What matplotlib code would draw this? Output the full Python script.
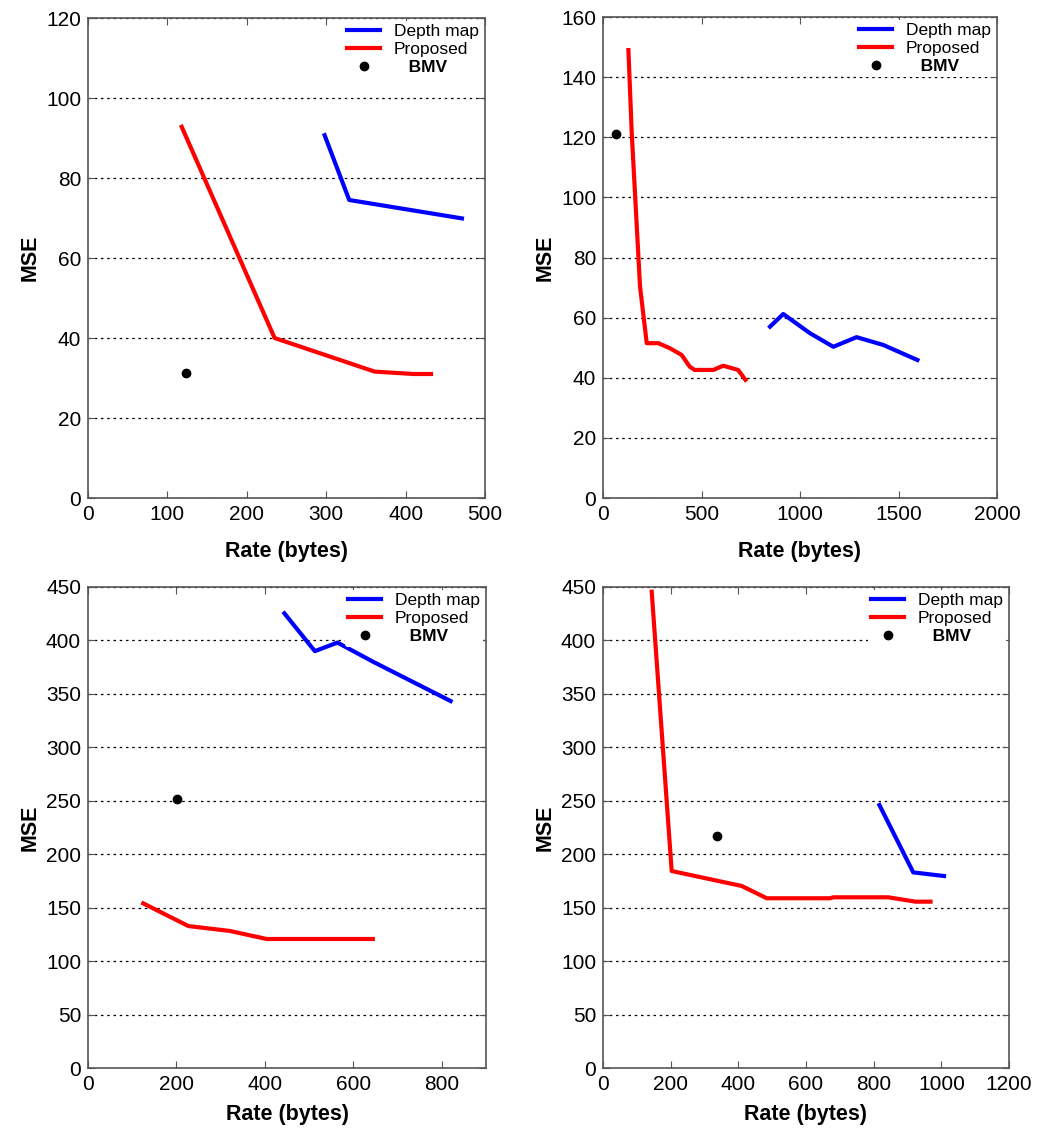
import matplotlib
matplotlib.use("Agg")
import matplotlib.pyplot as plt

plt.rcParams['font.family'] = ['Liberation Sans', 'DejaVu Sans']

# Panel 1 (top-left)
p1_depth_x = [298, 329, 471]
p1_depth_y = [90.7, 74.5, 69.9]
p1_prop_x = [118, 235, 361, 410, 432]
p1_prop_y = [92.8, 40.0, 31.6, 31.0, 31.0]
p1_bmv_x = [124]
p1_bmv_y = [31.2]

# Panel 2 (top-right)
p2_depth_x = [848, 915, 1051, 1169, 1287, 1423, 1596]
p2_depth_y = [57.0, 61.2, 54.8, 50.3, 53.5, 50.9, 45.9]
p2_prop_x = [129, 146, 188, 222, 281, 340, 399, 440, 465, 560, 610, 686, 723]
p2_prop_y = [149, 121.3, 70.3, 51.5, 51.5, 49.8, 47.6, 43.7, 42.6, 42.6, 44.0, 42.6, 39.3]
p2_bmv_x = [66]
p2_bmv_y = [121]

# Panel 3 (bottom-left)
p3_depth_x = [444, 513, 564, 645, 820]
p3_depth_y = [425.4, 390, 398, 380, 343.3]
p3_prop_x = [125, 227, 321, 404, 644]
p3_prop_y = [154, 132.8, 128.2, 120.7, 120.7]
p3_bmv_x = [202]
p3_bmv_y = [251.4]

# Panel 4 (bottom-right)
p4_depth_x = [817, 917, 1008]
p4_depth_y = [246, 183, 179.6]
p4_prop_x = [144, 203, 410, 484, 671, 681, 843, 924, 968]
p4_prop_y = [445.6, 184.3, 170.3, 158.8, 158.8, 159.7, 159.7, 155.6, 155.6]
p4_bmv_x = [336]
p4_bmv_y = [217.3]

xlims = [(0, 500), (0, 2000), (0, 900), (0, 1200)]
ylims = [(0, 120), (0, 160), (0, 450), (0, 450)]
xticks = [[0, 100, 200, 300, 400, 500],
          [0, 500, 1000, 1500, 2000],
          [0, 200, 400, 600, 800],
          [0, 200, 400, 600, 800, 1000, 1200]]
yticks = [list(range(0, 121, 20)), list(range(0, 161, 20)),
          list(range(0, 451, 50)), list(range(0, 451, 50))]

panels = [
    (p1_depth_x, p1_depth_y, p1_prop_x, p1_prop_y, p1_bmv_x, p1_bmv_y),
    (p2_depth_x, p2_depth_y, p2_prop_x, p2_prop_y, p2_bmv_x, p2_bmv_y),
    (p3_depth_x, p3_depth_y, p3_prop_x, p3_prop_y, p3_bmv_x, p3_bmv_y),
    (p4_depth_x, p4_depth_y, p4_prop_x, p4_prop_y, p4_bmv_x, p4_bmv_y),
]

W, H = 1038, 1129
# axes boxes in pixels: left, right, top, bottom
boxes = [(88, 485, 18, 498), (603, 997, 17, 498),
         (88, 486, 587, 1068), (603, 1009, 587, 1068)]
xlabel_pads = [12, 12, 7, 7]

fig = plt.figure(figsize=(W / 100, H / 100), dpi=100)

for i, (dx, dy, px, py, bx, by) in enumerate(panels):
    l, r, t, b = boxes[i]
    ax = fig.add_axes([l / W, 1 - b / H, (r - l) / W, (b - t) / H])
    ax.plot(dx, dy, color='#0000ff', lw=3, label='Depth map', zorder=3)
    ax.plot(px, py, color='#ff0000', lw=3, label='Proposed', zorder=3)
    ax.plot(bx, by, 'o', color='black', ms=6, label='   BMV', zorder=3)
    ax.set_xlim(*xlims[i])
    ax.set_ylim(*ylims[i])
    ax.set_xticks(xticks[i])
    ax.set_yticks(yticks[i])
    ax.grid(axis='y', color='black', linestyle=(0, (2, 3)), linewidth=0.9)
    ax.set_axisbelow(True)
    ax.tick_params(direction='in', top=True, right=True, labelsize=15,
                   length=5, color='#555555', pad=5)
    for s in ax.spines.values():
        s.set_color('#555555')
        s.set_linewidth(1.2)
    ax.set_xlabel('Rate (bytes)', fontsize=15.5, fontweight='bold',
                  labelpad=xlabel_pads[i])
    ax.set_ylabel('MSE', fontsize=15.5, fontweight='bold', labelpad=4)
    leg = ax.legend(loc='upper right', frameon=True, fontsize=12.5,
                    handlelength=1.9, handletextpad=0.8, borderaxespad=0.15,
                    labelspacing=0.15, borderpad=0.2)
    leg.get_frame().set_edgecolor('none')
    leg.get_frame().set_facecolor('white')
    leg.get_frame().set_alpha(1.0)
    leg.get_texts()[2].set_fontweight('bold')
    leg.set_zorder(5)

fig.savefig('out.png', dpi=100)
